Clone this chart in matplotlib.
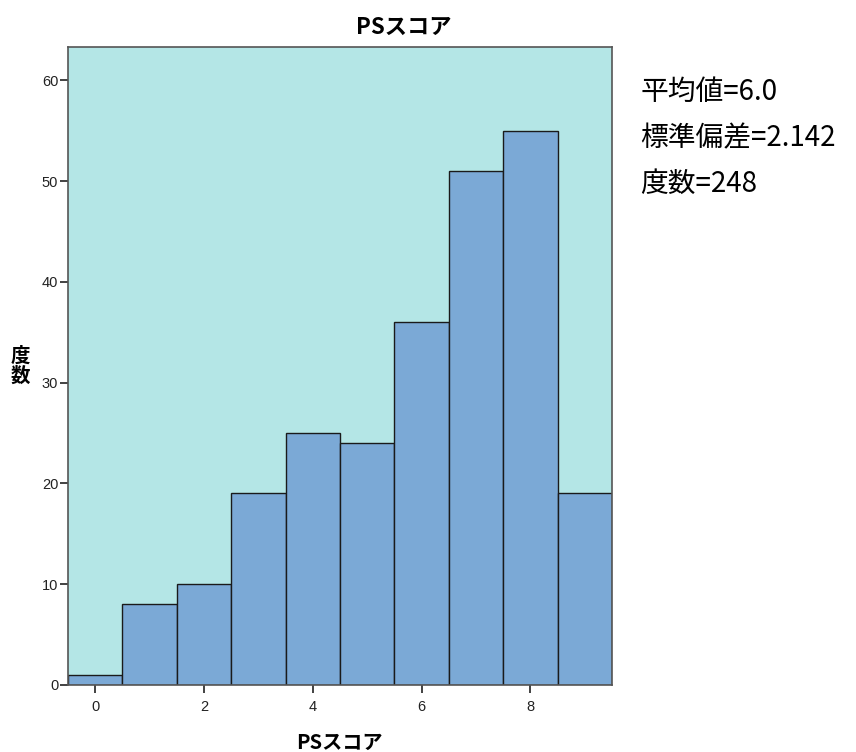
import numpy as np
import matplotlib
matplotlib.use("Agg")
import matplotlib.pyplot as plt

plt.rcParams['font.family'] = ['Noto Sans CJK JP', 'DejaVu Sans']

# histogram data
scores = [0, 1, 2, 3, 4, 5, 6, 7, 8, 9]
counts = [1, 8, 10, 19, 25, 24, 36, 51, 55, 19]
x_ticks = [0, 2, 4, 6, 8]
y_ticks = [0, 10, 20, 30, 40, 50, 60]
stats_lines = ["平均値=6.0", "標準偏差=2.142", "度数=248"]

narrow = ['Liberation Sans Narrow', 'Liberation Sans', 'DejaVu Sans']

fig = plt.figure(figsize=(8.56, 7.52), dpi=100)
ax = fig.add_axes([0.0794, 0.0891, 0.6355, 0.8484])
ax.set_facecolor("#B4E6E6")

ax.bar(scores, counts, width=1.0, color="#7BA9D6", edgecolor="#1a1a1a", linewidth=1.0)

ax.set_xlim(-0.5, 9.5)
ax.set_ylim(0, 63.3)
ax.set_xticks(x_ticks)
ax.set_yticks(y_ticks)
ax.tick_params(axis="both", direction="out", length=6, width=1.3, color="#333333")
ax.tick_params(axis="x", pad=5)
ax.tick_params(axis="y", pad=1)
for lab in ax.get_xticklabels() + ax.get_yticklabels():
    lab.set_fontfamily(narrow)
    lab.set_fontsize(10.5)
    lab.set_color("#222222")
for s in ax.spines.values():
    s.set_color("#555555")
    s.set_linewidth(1.2)

# title sits a bit right of the axes centre in the original
fig.text(0.472, 0.964, "PSスコア", ha="center", va="center",
         fontsize=16, fontweight="bold")
fig.text(0.396, 0.013, "PSスコア", ha="center", va="center",
         fontsize=14.5, fontweight="bold")
fig.text(0.024, 0.513, "度\n数", ha="center", va="center",
         fontsize=14, fontweight="bold", linespacing=1.0)

for i, line in enumerate(stats_lines):
    fig.text(0.748, 0.878 - i * 0.0615, line, ha="left", va="center", fontsize=20)

fig.savefig("out.png", dpi=100)
